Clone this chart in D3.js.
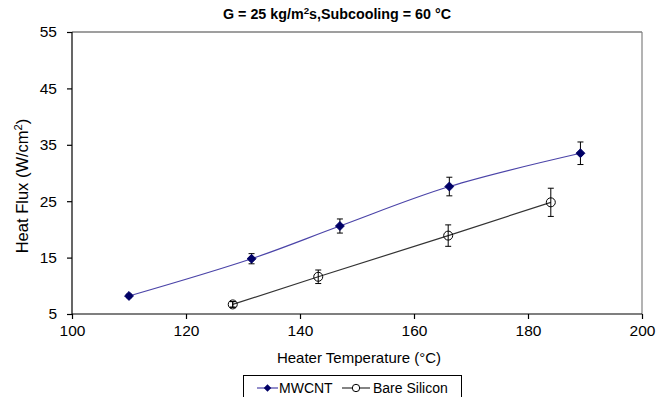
<!DOCTYPE html>
<html><head><meta charset="utf-8">
<script src="https://cdn.jsdelivr.net/npm/d3@7/dist/d3.min.js"></script>
<style>body{margin:0;background:#fff}svg{display:block;font-family:"Liberation Sans",Arial,sans-serif}</style>
</head><body>
<script>
const titleParts = ["G = 25 kg/m", "2", "s,Subcooling = 60 °C"];
const xLabel = "Heater Temperature (°C)";
const yLabelParts = ["Heat Flux (W/cm", "2", ")"];
const xTicks = [100, 120, 140, 160, 180, 200];
const yTicks = [5, 15, 25, 35, 45, 55];
const seriesNames = ["MWCNT", "Bare Silicon"];
const mwcntX = [110, 131.5, 147, 166.2, 189.2];
const mwcntY = [8.2, 14.8, 20.6, 27.6, 33.5];
const mwcntErr = [0.3, 0.9, 1.25, 1.65, 2.0];
const bareX = [128.2, 143.2, 166.0, 184.0];
const bareY = [6.7, 11.6, 18.9, 24.8];
const bareErr = [0.5, 1.2, 1.9, 2.5];

const W = 667, H = 397;
const m = {left: 72, right: 25, top: 32, bottom: 83};
const svg = d3.select("body").append("svg").attr("width", W).attr("height", H);
const x = d3.scaleLinear().domain([100, 200]).range([m.left, W - m.right]);
const y = d3.scaleLinear().domain([5, 55]).range([H - m.bottom, m.top]);

// frame (top/right)
svg.append("line").attr("x1", x(100)).attr("x2", x(200)).attr("y1", y(55)).attr("y2", y(55)).attr("stroke", "#404040").attr("stroke-width", 1.2);
svg.append("line").attr("x1", x(200)).attr("x2", x(200)).attr("y1", y(55)).attr("y2", y(5)).attr("stroke", "#808080").attr("stroke-width", 1.2);

const xAxis = svg.append("g").attr("transform", `translate(0,${y(5)})`)
  .call(d3.axisBottom(x).tickValues(xTicks).tickSize(5).tickPadding(6).tickFormat(d3.format("d")));
const yAxis = svg.append("g").attr("transform", `translate(${x(100)},0)`)
  .call(d3.axisLeft(y).tickValues(yTicks).tickSize(5).tickPadding(10).tickFormat(d3.format("d")));
[xAxis, yAxis].forEach(g => {
  g.selectAll("path,line").attr("stroke", "#000").attr("stroke-width", 1.2);
  g.selectAll("text").attr("font-size", 15.5).attr("fill", "#000").attr("font-family", '"Liberation Sans",Arial,sans-serif');
});
xAxis.select(".domain").attr("d", `M${x(100)},0H${x(200)}`);
yAxis.select(".domain").attr("d", `M0,${y(5)}V${y(55)}`);

function supText(sel, parts, size) {
  sel.append("tspan").text(parts[0]);
  sel.append("tspan").attr("font-size", size * 0.68).attr("dy", -size * 0.38).text(parts[1]);
  sel.append("tspan").attr("dy", size * 0.38).text(parts[2]);
}

// title & labels
supText(svg.append("text").attr("x", 337).attr("y", 19).attr("text-anchor", "middle")
  .attr("font-size", 14.3).attr("font-weight", "bold"), titleParts, 14.3);
svg.append("text").attr("x", 359).attr("y", 363).attr("text-anchor", "middle")
  .attr("font-size", 15).text(xLabel);
supText(svg.append("text").attr("transform", `translate(28,186) rotate(-90)`).attr("text-anchor", "middle")
  .attr("font-size", 16.5), yLabelParts, 16.5);

// error bars
function errBars(xs, ys, es) {
  const g = svg.append("g").attr("stroke", "#000").attr("stroke-width", 1);
  xs.forEach((xv, i) => {
    const cx = x(xv), y1 = y(ys[i] + es[i]), y2 = y(ys[i] - es[i]);
    g.append("line").attr("x1", cx).attr("x2", cx).attr("y1", y1).attr("y2", y2);
    g.append("line").attr("x1", cx - 3).attr("x2", cx + 3).attr("y1", y1).attr("y2", y1);
    g.append("line").attr("x1", cx - 3).attr("x2", cx + 3).attr("y1", y2).attr("y2", y2);
  });
}

// lines
const mData = mwcntX.map((v, i) => [v, mwcntY[i]]);
const bData = bareX.map((v, i) => [v, bareY[i]]);
svg.append("path").datum(mData).attr("fill", "none").attr("stroke", "#4b44a8").attr("stroke-width", 1.2)
  .attr("d", d3.line().x(d => x(d[0])).y(d => y(d[1])).curve(d3.curveCatmullRom.alpha(0.5)));
svg.append("path").datum(bData).attr("fill", "none").attr("stroke", "#333").attr("stroke-width", 1.2)
  .attr("d", d3.line().x(d => x(d[0])).y(d => y(d[1])));

errBars(mwcntX, mwcntY, mwcntErr);
errBars(bareX, bareY, bareErr);

const diamond = d3.symbol().type(d3.symbolDiamond2).size(50);
svg.append("g").selectAll("path").data(mData).join("path")
  .attr("transform", d => `translate(${x(d[0])},${y(d[1])})`)
  .attr("d", diamond).attr("fill", "#000066").attr("stroke", "#000066");
svg.append("g").selectAll("circle").data(bData).join("circle")
  .attr("cx", d => x(d[0])).attr("cy", d => y(d[1])).attr("r", 4.5)
  .attr("fill", "none").attr("stroke", "#000").attr("stroke-width", 1);
errBars([bareX[0]], [bareY[0]], [bareErr[0]]);

// legend
const lg = svg.append("g");
lg.append("rect").attr("x", 243.5).attr("y", 375.5).attr("width", 218).attr("height", 30)
  .attr("fill", "#fff").attr("stroke", "#000").attr("stroke-width", 1);
lg.append("line").attr("x1", 257).attr("x2", 278).attr("y1", 388).attr("y2", 388).attr("stroke", "#4b44a8").attr("stroke-width", 1.2);
lg.append("path").attr("transform", "translate(267.5,388)").attr("d", d3.symbol().type(d3.symbolDiamond2).size(36)).attr("fill", "#000066");
lg.append("text").attr("x", 279).attr("y", 393).attr("font-size", 14).text(seriesNames[0]);
lg.append("line").attr("x1", 342).attr("x2", 370).attr("y1", 388).attr("y2", 388).attr("stroke", "#333").attr("stroke-width", 1.2);
lg.append("circle").attr("cx", 356).attr("cy", 388).attr("r", 3.7).attr("fill", "#fff").attr("stroke", "#000");
lg.append("text").attr("x", 373).attr("y", 393).attr("font-size", 14).text(seriesNames[1]);
</script>
</body></html>
